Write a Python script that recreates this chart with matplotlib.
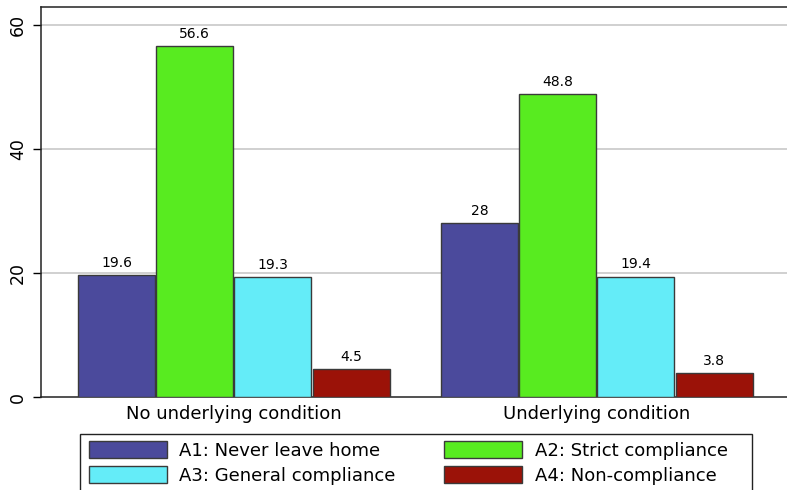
import matplotlib
matplotlib.use("Agg")
import matplotlib.pyplot as plt
from matplotlib.patches import Rectangle
import numpy as np

# valores
grupos = ["No underlying condition", "Underlying condition"]
series = ["A1: Never leave home", "A2: Strict compliance",
          "A3: General compliance", "A4: Non-compliance"]
a1 = [19.6, 28]
a2 = [56.6, 48.8]
a3 = [19.3, 19.4]
a4 = [4.5, 3.8]
cores = ["#4b4a9c", "#58eb20", "#64ecf8", "#9b1208"]

valores = [a1, a2, a3, a4]

fig = plt.figure(figsize=(7.87, 4.90), dpi=100)
ax = fig.add_axes([41 / 787, 93 / 490, 746 / 787, 390 / 490])

x = np.arange(len(grupos))
passo = 0.2154
largura = 0.212
barras = []
for i, (vals, cor, nome) in enumerate(zip(valores, cores, series)):
    b = ax.bar(x + (i - 1.5) * passo, vals, largura, color=cor,
               edgecolor="#3a3a3a", linewidth=1, label=nome, zorder=3)
    barras.append(b)
    for rect, v in zip(b, vals):
        ax.annotate(f"{v:g}", (rect.get_x() + rect.get_width() / 2, v),
                    xytext=(0, 4), textcoords="offset points",
                    ha="center", va="bottom", fontsize=10, zorder=4)

ax.set_xlim(-0.531, 1.524)
ax.set_ylim(0, 62.9)
ax.set_yticks([0, 20, 40, 60])
ax.set_yticklabels(["0", "20", "40", "60"], rotation=90, va="center",
                   fontsize=12.5)
ax.set_xticks(x)
ax.set_xticklabels(grupos, fontsize=13)
ax.tick_params(axis="x", length=0, pad=6)
ax.tick_params(axis="y", length=6, width=1, pad=4)

for v in [20, 40, 60]:
    ax.axhline(v, color="#c8c8c8", linewidth=1.2, zorder=1)

ax.spines["right"].set_visible(False)
for s in ["left", "top", "bottom"]:
    ax.spines[s].set_linewidth(1.1)
    ax.spines[s].set_color("#222222")

# legenda em duas colunas: A1 A2 / A3 A4 (caixa desenhada a parte, cortada embaixo)
ordem = [0, 2, 1, 3]
leg = fig.legend([barras[i] for i in ordem], [series[i] for i in ordem],
                 ncol=2, loc="upper left",
                 bbox_to_anchor=(89 / 787, 1 - 441 / 490),
                 fontsize=13, frameon=False,
                 handlelength=4.3, handleheight=1.05, handletextpad=0.7,
                 labelspacing=0.36, columnspacing=2.7,
                 borderpad=0, borderaxespad=0)
fig.add_artist(Rectangle((80 / 787, -0.05), 672 / 787, 0.05 + (490 - 434) / 490,
                         transform=fig.transFigure, fill=False,
                         edgecolor="#222222", linewidth=1))

fig.savefig("out.png", dpi=100)
